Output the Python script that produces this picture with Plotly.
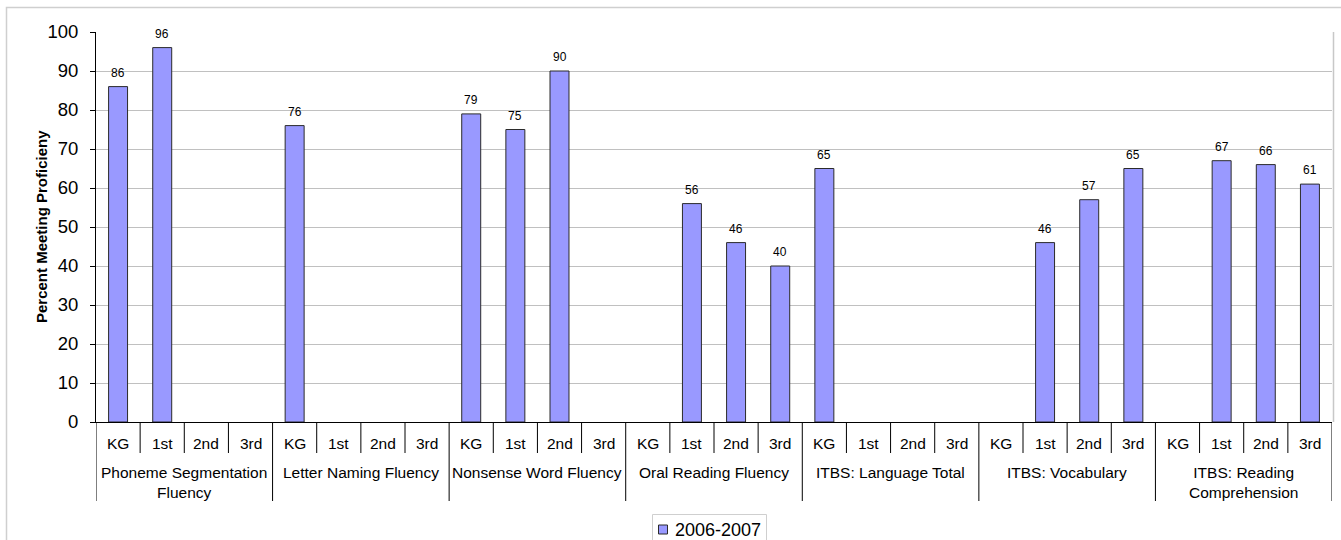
import plotly.graph_objects as go

groups = ["Phoneme Segmentation<br>Fluency", "Letter Naming Fluency", "Nonsense Word Fluency",
          "Oral Reading Fluency", "ITBS: Language Total", "ITBS: Vocabulary",
          "ITBS: Reading<br>Comprehension"]
grades = ["KG", "1st", "2nd", "3rd"]
series_name = "2006-2007"
values = [86, 96, None, None,
          76, None, None, None,
          79, 75, 90, None,
          None, 56, 46, 40,
          65, None, None, None,
          None, 46, 57, 65,
          None, 67, 66, 61]
y_ticks = list(range(0, 101, 10))

W, H = 1341, 540
L, R, T, B = 96, 1332, 32, 422
FONT = "Liberation Sans, Arial, sans-serif"
BAR_COLOR = "#9999FF"
BAR_LINE = "#2b2b2b"

def px(p):
    return (p - L) / (R - L)

def py(p):
    return (B - p) / (B - T)

n = len(groups) * len(grades)
xs = list(range(n))

fig = go.Figure()
fig.add_trace(go.Bar(
    x=xs, y=values, name=series_name, width=0.43,
    marker=dict(color=BAR_COLOR, line=dict(color=BAR_LINE, width=1)),
    showlegend=False,
))

annotations = []
for i, v in enumerate(values):
    if v is not None:
        annotations.append(dict(x=i, y=v, xref="x", yref="y", text=str(v), showarrow=False,
                                yanchor="bottom", yshift=5, font=dict(size=12, color="black", family=FONT)))
for gi, g in enumerate(groups):
    for si, s in enumerate(grades):
        annotations.append(dict(x=gi * len(grades) + si, y=py(443), xref="x", yref="paper", text=s,
                                showarrow=False, yanchor="middle", font=dict(size=15.5, color="black", family=FONT)))
    annotations.append(dict(x=gi * len(grades) + 1.5, y=py(462), xref="x", yref="paper", text=g,
                            showarrow=False, yanchor="top", font=dict(size=15.5, color="black", family=FONT)))
annotations.append(dict(x=px(31), y=py(226.5), xref="paper", yref="paper", text="<b>Percent Meeting Proficieny</b>",
                        textangle=-90, showarrow=False, font=dict(size=15, color="black", family=FONT)))
# legend text
annotations.append(dict(x=px(673), y=py(529.5), xref="paper", yref="paper", text=series_name,
                        xanchor="left", yanchor="middle", showarrow=False,
                        font=dict(size=18, color="black", family=FONT)))

shapes = []
for k in range(n + 1):
    bottom = 501 if k % len(grades) == 0 else 453
    shapes.append(dict(type="line", xref="x", yref="paper", x0=k - 0.5, x1=k - 0.5,
                       y0=py(422), y1=py(bottom), line=dict(color="black", width=1)))
# plot-area right edge
shapes.append(dict(type="line", xref="paper", yref="paper", x0=px(1333.5), x1=px(1333.5), y0=0, y1=1,
                   line=dict(color="#c8c8c8", width=1.5)))
# outer chart border
shapes.append(dict(type="rect", xref="paper", yref="paper", x0=px(6.5), x1=px(1350), y0=py(560), y1=py(7.5),
                   line=dict(color="#cfcfcf", width=1.5), fillcolor="rgba(0,0,0,0)"))
# legend box and key
shapes.append(dict(type="rect", xref="paper", yref="paper", x0=px(652.5), x1=px(766.5), y0=py(560), y1=py(514.5),
                   line=dict(color="#cfcfcf", width=1), fillcolor="white", layer="below"))
shapes.append(dict(type="rect", xref="paper", yref="paper", x0=px(658.5), x1=px(667.5), y0=py(534), y1=py(525),
                   line=dict(color=BAR_LINE, width=1), fillcolor=BAR_COLOR))

fig.update_layout(
    width=W, height=H,
    margin=dict(l=L, r=W - R, t=T, b=H - B, autoexpand=False),
    paper_bgcolor="white", plot_bgcolor="white",
    font=dict(family=FONT, color="black"),
    bargap=0.5,
    showlegend=False,
    xaxis=dict(range=[-0.5, n - 0.5], showticklabels=False, showgrid=False, zeroline=False,
               showline=True, linecolor="black", linewidth=1, ticks=""),
    yaxis=dict(range=[0, 100], tickvals=y_ticks, showgrid=True, gridcolor="#c0c0c0", gridwidth=1,
               zeroline=False, showline=True, linecolor="black", linewidth=1,
               ticks="outside", ticklen=5, tickcolor="black", ticklabelstandoff=8,
               tickfont=dict(size=18.5, family=FONT)),
    annotations=annotations, shapes=shapes,
)

fig.write_html("out.html", config={"displayModeBar": False},
               post_script="document.body.style.margin='0';document.body.style.overflow='hidden';")
